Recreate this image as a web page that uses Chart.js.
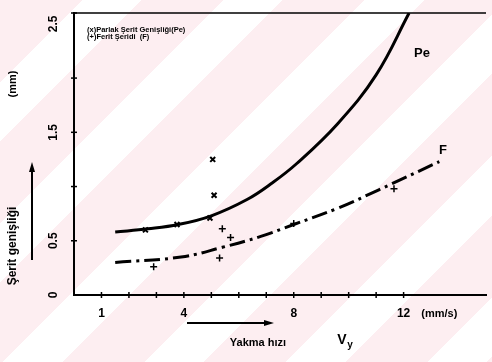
<!DOCTYPE html>
<html>
<head>
<meta charset="utf-8">
<script src="https://cdn.jsdelivr.net/npm/chart.js@4.4.0/dist/chart.umd.min.js"></script>
<style>
html, body { margin: 0; padding: 0; }
body {
    width: 492px;
    height: 362px;
    background: repeating-linear-gradient(135deg, #fdeef1 0px, #fdeef1 58px, #ffffff 58px, #ffffff 100px);
}
#wrap { width: 492px; height: 362px; position: relative; }
</style>
</head>
<body>
<div id="wrap"><canvas id="chart"></canvas></div>
<script>
// Pe curve (parlak serit genisligi) - solid
const peCurveX = [1.5, 2.7, 3.8, 5.0, 6.3, 7.2, 8.1, 9.6, 11.0, 12.2];
const peCurveY = [0.58, 0.61, 0.65, 0.73, 0.88, 1.03, 1.21, 1.58, 2.03, 2.60];
// Pe measured points (x marks)
const pePointsX = [2.6, 3.75, 4.95, 5.1, 5.05];
const pePointsY = [0.60, 0.65, 0.71, 0.92, 1.25];

// F curve (ferit seridi) - dash dot
const fCurveX = [1.5, 3.9, 5.4, 6.8, 8.0, 9.6, 11.1, 13.3];
const fCurveY = [0.30, 0.35, 0.44, 0.54, 0.65, 0.80, 0.97, 1.23];
// F measured points (+ marks)
const fPointsX = [2.9, 5.3, 5.4, 5.7, 8.0, 11.65];
const fPointsY = [0.26, 0.34, 0.61, 0.53, 0.66, 0.98];

const xTickLabels = [1, 4, 8, 12];
const yTickLabels = [0, 0.5, 1.5, 2.5];

const legendLines = ['(x)Parlak Şerit Genişliği(Pe)', '(+)Ferit Şeridi  (F)'];

function toXY(xs, ys) {
    return xs.map((x, i) => ({ x: x, y: ys[i] }));
}

const paperAxes = {
    id: 'paperAxes',
    afterDraw(chart) {
        const ctx = chart.ctx;
        const xs = chart.scales.x;
        const ys = chart.scales.y;
        const area = chart.chartArea;
        ctx.save();
        ctx.strokeStyle = '#000';
        ctx.fillStyle = '#000';

        // top frame line
        ctx.lineWidth = 1.5;
        ctx.beginPath();
        ctx.moveTo(area.left, area.top);
        ctx.lineTo(area.right, area.top);
        ctx.stroke();

        // tick marks crossing the axes
        ctx.lineWidth = 1.5;
        xs.ticks.forEach(t => {
            if (t.value <= 0 || t.value > 12) return;
            const px = xs.getPixelForValue(t.value);
            ctx.beginPath();
            ctx.moveTo(px, area.bottom - 3);
            ctx.lineTo(px, area.bottom + 3);
            ctx.stroke();
        });
        ys.ticks.forEach(t => {
            if (t.value <= 0) return;
            const py = ys.getPixelForValue(t.value);
            ctx.beginPath();
            ctx.moveTo(area.left - 3, py);
            ctx.lineTo(area.left + 3, py);
            ctx.stroke();
        });

        // x tick labels
        ctx.font = 'bold 12px "Liberation Sans", Arial, sans-serif';
        ctx.textAlign = 'center';
        ctx.textBaseline = 'middle';
        xTickLabels.forEach(v => {
            ctx.fillText(String(v), xs.getPixelForValue(v), area.bottom + 19);
        });
        ctx.font = 'bold 11px "Liberation Sans", Arial, sans-serif';
        ctx.fillText('(mm/s)', xs.getPixelForValue(13.3), area.bottom + 19);

        // y tick labels (rotated)
        ctx.font = 'bold 12px "Liberation Sans", Arial, sans-serif';
        yTickLabels.forEach(v => {
            const py = ys.getPixelForValue(v);
            ctx.save();
            ctx.translate(area.left - 20, py);
            ctx.rotate(-Math.PI / 2);
            ctx.fillText(String(v), 0, 0);
            ctx.restore();
        });

        // left axis title
        ctx.font = 'bold 11px "Liberation Sans", Arial, sans-serif';
        ctx.save();
        ctx.translate(13, 84);
        ctx.rotate(-Math.PI / 2);
        ctx.fillText('(mm)', 0, 0);
        ctx.restore();
        ctx.font = 'bold 12px "Liberation Sans", Arial, sans-serif';
        ctx.save();
        ctx.translate(13, 246);
        ctx.rotate(-Math.PI / 2);
        ctx.fillText('Şerit genişliği', 0, 0);
        ctx.restore();

        // vertical arrow
        ctx.lineWidth = 2;
        ctx.beginPath();
        ctx.moveTo(32, 260);
        ctx.lineTo(32, 170);
        ctx.stroke();
        ctx.beginPath();
        ctx.moveTo(32, 162);
        ctx.lineTo(29, 172);
        ctx.lineTo(35, 172);
        ctx.closePath();
        ctx.fill();

        // horizontal arrow
        ctx.beginPath();
        ctx.moveTo(187, 323);
        ctx.lineTo(265, 323);
        ctx.stroke();
        ctx.beginPath();
        ctx.moveTo(274, 323);
        ctx.lineTo(264, 320);
        ctx.lineTo(264, 326);
        ctx.closePath();
        ctx.fill();

        // bottom title
        ctx.font = 'bold 11px "Liberation Sans", Arial, sans-serif';
        ctx.fillText('Yakma hızı', 258, 343);
        ctx.font = 'bold 14px "Liberation Sans", Arial, sans-serif';
        ctx.fillText('V', 342, 340);
        ctx.font = 'bold 10px "Liberation Sans", Arial, sans-serif';
        ctx.fillText('y', 350, 345);

        // legend text
        ctx.textAlign = 'left';
        ctx.font = 'bold 7.5px "Liberation Sans", Arial, sans-serif';
        legendLines.forEach((s, i) => {
            ctx.fillText(s, 87, 30 + i * 7);
        });

        // curve names
        ctx.textAlign = 'center';
        ctx.font = 'bold 13px "Liberation Sans", Arial, sans-serif';
        ctx.fillText('Pe', 422, 53);
        ctx.fillText('F', 443, 150);

        ctx.restore();
    }
};

const ctx = document.getElementById('chart').getContext('2d');
const chart = new Chart(ctx, {
    type: 'line',
    data: {
        datasets: [
            {
                data: toXY(peCurveX, peCurveY),
                borderColor: '#000',
                borderWidth: 3,
                pointRadius: 0,
                tension: 0.4,
                fill: false
            },
            {
                data: toXY(fCurveX, fCurveY),
                borderColor: '#000',
                borderWidth: 3,
                borderDash: [16, 5, 3, 5],
                pointRadius: 0,
                tension: 0.4,
                fill: false
            },
            {
                data: toXY(pePointsX, pePointsY),
                showLine: false,
                pointStyle: 'crossRot',
                pointRadius: 3.5,
                pointBorderWidth: 2,
                pointBorderColor: '#000'
            },
            {
                data: toXY(fPointsX, fPointsY),
                showLine: false,
                pointStyle: 'cross',
                pointRadius: 3.5,
                pointBorderWidth: 1.5,
                pointBorderColor: '#000'
            }
        ]
    },
    options: {
        responsive: true,
        maintainAspectRatio: false,
        animation: false,
        layout: { padding: { top: 13, right: 2, left: 0, bottom: 0 } },
        plugins: {
            legend: { display: false },
            tooltip: { enabled: false }
        },
        scales: {
            x: {
                type: 'linear',
                min: 0,
                max: 15,
                ticks: { display: false, stepSize: 1 },
                grid: { display: false },
                border: { display: true, color: '#000', width: 2 },
                afterFit: (scale) => { scale.height = 67; }
            },
            y: {
                min: 0,
                max: 2.6,
                ticks: { display: false, stepSize: 0.5 },
                grid: { display: false },
                border: { display: true, color: '#000', width: 2 },
                afterFit: (scale) => { scale.width = 74; }
            }
        }
    },
    plugins: [paperAxes]
});
</script>
</body>
</html>
